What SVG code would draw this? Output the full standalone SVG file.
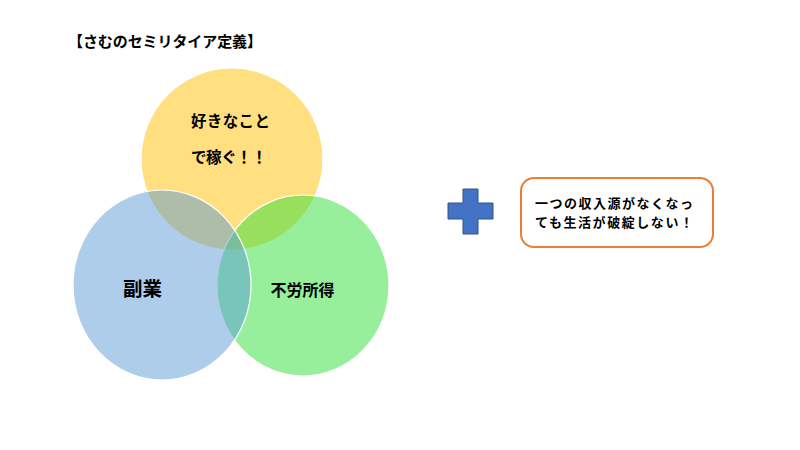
<svg xmlns="http://www.w3.org/2000/svg" width="800" height="450" viewBox="0 0 800 450">
<style>
text{font-family:"Noto Sans CJK JP","Noto Sans",sans-serif;font-weight:bold;fill:#000}
.c{stroke:#fff;stroke-width:1.2}
</style>
<rect width="800" height="450" fill="#fff"/>
<text x="68" y="47" font-size="15" textLength="194">【さむのセミリタイア定義】</text>
<g id="yellow"><ellipse class="c" cx="232" cy="159" rx="91" ry="91" fill="#FFC000" fill-opacity="0.5"/>
<text x="191" y="127" font-size="15.5" textLength="79">好きなこと</text>
<text x="191" y="163" font-size="15.5" textLength="76">で稼ぐ！！</text></g>
<g id="green"><ellipse class="c" cx="303" cy="285.5" rx="86" ry="90.5" fill="#2FE03A" fill-opacity="0.5"/></g>
<g id="blue"><ellipse class="c" cx="162" cy="285" rx="89" ry="95" fill="#5B9BD5" fill-opacity="0.5"/></g>
<text x="142.5" y="296" font-size="19.5" text-anchor="middle">副業</text>
<text x="302.5" y="296" font-size="16" text-anchor="middle">不労所得</text>
<g id="plus"><path d="M463,189H478V203H493V219H478V234H463V219H448V203H463Z" fill="#4472C4" stroke="#2F528F" stroke-width="1"/></g>
<g id="note"><rect x="521" y="178" width="192" height="69" rx="13" fill="#fff" stroke="#ED7D31" stroke-width="2"/>
<text x="535" y="208" font-size="13" textLength="158">一つの収入源がなくなっ</text>
<text x="535" y="227" font-size="13" textLength="158">ても生活が破綻しない！</text></g>
<g id="connectors"></g>
</svg>
